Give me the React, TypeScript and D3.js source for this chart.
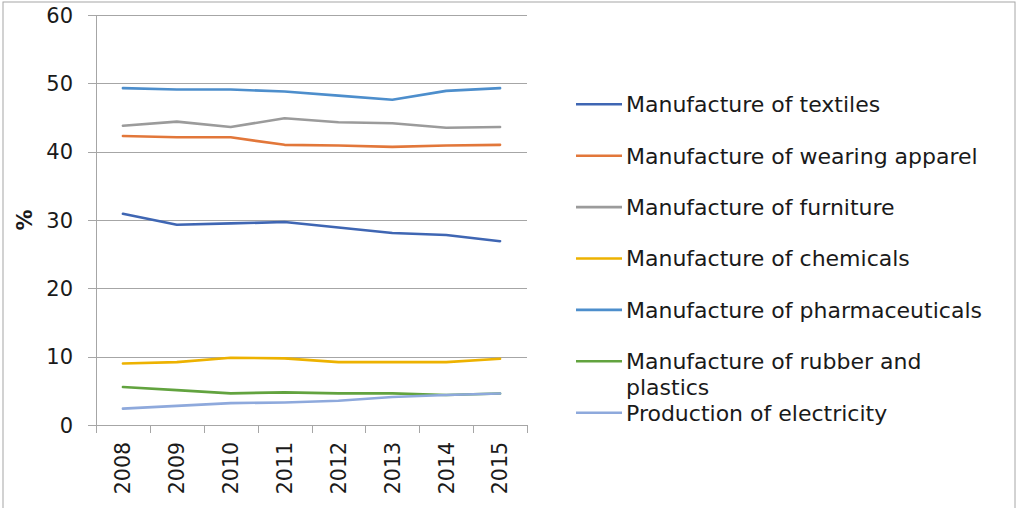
import React from "react";
import * as d3 from "d3";

const years = ["2008", "2009", "2010", "2011", "2012", "2013", "2014", "2015"];

const textiles = [30.9, 29.3, 29.5, 29.7, 28.9, 28.1, 27.8, 26.9];
const wearingApparel = [42.3, 42.1, 42.1, 41.0, 40.9, 40.7, 40.9, 41.0];
const furniture = [43.8, 44.4, 43.6, 44.9, 44.3, 44.15, 43.5, 43.6];
const chemicals = [9.0, 9.2, 9.85, 9.75, 9.2, 9.2, 9.2, 9.7];
const pharmaceuticals = [49.3, 49.1, 49.1, 48.8, 48.2, 47.6, 48.9, 49.3];
const rubberPlastics = [5.56, 5.1, 4.63, 4.78, 4.63, 4.63, 4.4, 4.6];
const electricity = [2.4, 2.8, 3.2, 3.3, 3.55, 4.1, 4.4, 4.6];

const yTicks = [0, 10, 20, 30, 40, 50, 60];

const seriesNames = [
  ["Manufacture of textiles"],
  ["Manufacture of wearing apparel"],
  ["Manufacture of furniture"],
  ["Manufacture of chemicals"],
  ["Manufacture of pharmaceuticals"],
  ["Manufacture of rubber and", "plastics"],
  ["Production of electricity"],
];
const seriesValues = [
  textiles,
  wearingApparel,
  furniture,
  chemicals,
  pharmaceuticals,
  rubberPlastics,
  electricity,
];
const seriesColors = [
  "#3F66B3",
  "#E2773A",
  "#9B9B9B",
  "#EDB200",
  "#4D8ECC",
  "#62A33F",
  "#8EA9DC",
];

const W = 1016;
const H = 508;
const plot = { left: 96, right: 527, top: 15, bottom: 425 };
const FONT = "'DejaVu Sans', Verdana, sans-serif";

export default function App() {
  const x = d3
    .scaleBand<string>()
    .domain(years)
    .range([plot.left, plot.right])
    .paddingInner(0)
    .paddingOuter(0);
  const xc = (yr: string) => (x(yr) as number) + x.bandwidth() / 2;
  const y = d3.scaleLinear().domain([0, 60]).range([plot.bottom, plot.top]);

  const line = d3
    .line<number>()
    .x((_, i) => xc(years[i]))
    .y((v) => y(v));

  const boundaries = years.map((yr) => x(yr) as number).concat([plot.right]);

  const legendX = 576;
  const legendY0 = 104.3;
  const legendStep = 51.4;

  return (
    <svg
      width={W}
      height={H}
      style={{ position: "absolute", left: 0, top: 0, background: "#fff" }}
      fontFamily={FONT}
    >
      <rect x={3} y={2} width={1012} height={510} fill="#fff" stroke="#a6a6a6" strokeWidth={1} />

      {/* horizontal gridlines and y ticks */}
      {yTicks.map((t) => (
        <g key={t}>
          {t > 0 && (
            <line
              x1={plot.left}
              x2={plot.right}
              y1={Math.round(y(t)) + 0.5}
              y2={Math.round(y(t)) + 0.5}
              stroke="#a6a6a6"
              strokeWidth={1}
            />
          )}
          <line
            x1={88}
            x2={plot.left}
            y1={Math.round(y(t)) + 0.5}
            y2={Math.round(y(t)) + 0.5}
            stroke="#a6a6a6"
          />
          <text
            x={73}
            y={y(t)}
            dy="0.36em"
            textAnchor="end"
            fontSize={21}
            fill="#1a1a1a"
          >
            {t}
          </text>
        </g>
      ))}

      {/* axes */}
      <line x1={plot.left + 0.5} x2={plot.left + 0.5} y1={plot.top} y2={plot.bottom + 8} stroke="#a6a6a6" />
      <line x1={plot.left} x2={plot.right} y1={plot.bottom + 0.5} y2={plot.bottom + 0.5} stroke="#a6a6a6" />
      {boundaries.map((b, i) => (
        <line
          key={i}
          x1={Math.round(b) + 0.5}
          x2={Math.round(b) + 0.5}
          y1={plot.bottom}
          y2={plot.bottom + 8}
          stroke="#a6a6a6"
        />
      ))}

      {/* x tick labels, rotated */}
      {years.map((yr) => (
        <text
          key={yr}
          transform={`translate(${xc(yr)},${442}) rotate(-90)`}
          textAnchor="end"
          dy="0.36em"
          fontSize={20.5}
          fill="#1a1a1a"
        >
          {yr}
        </text>
      ))}

      {/* y axis title */}
      <text
        transform={`translate(24,${(plot.top + plot.bottom) / 2}) rotate(-90)`}
        textAnchor="middle"
        dy="0.36em"
        fontSize={21}
        fontWeight="bold"
        fill="#1a1a1a"
      >
        %
      </text>

      {/* series lines */}
      {seriesValues.map((vals, i) => (
        <path
          key={i}
          d={line(vals) as string}
          fill="none"
          stroke={seriesColors[i]}
          strokeWidth={2.6}
          strokeLinejoin="round"
          strokeLinecap="round"
        />
      ))}

      {/* legend */}
      {seriesNames.map((name, i) => {
        const ly = legendY0 + i * legendStep;
        return (
          <g key={i}>
            <line
              x1={legendX}
              x2={legendX + 46}
              y1={ly}
              y2={ly}
              stroke={seriesColors[i]}
              strokeWidth={2.6}
            />
            {name.map((ln, j) => (
              <text
                key={j}
                x={626}
                y={ly + j * 26}
                dy="0.36em"
                fontSize={22}
                fill="#1a1a1a"
              >
                {ln}
              </text>
            ))}
          </g>
        );
      })}
    </svg>
  );
}
